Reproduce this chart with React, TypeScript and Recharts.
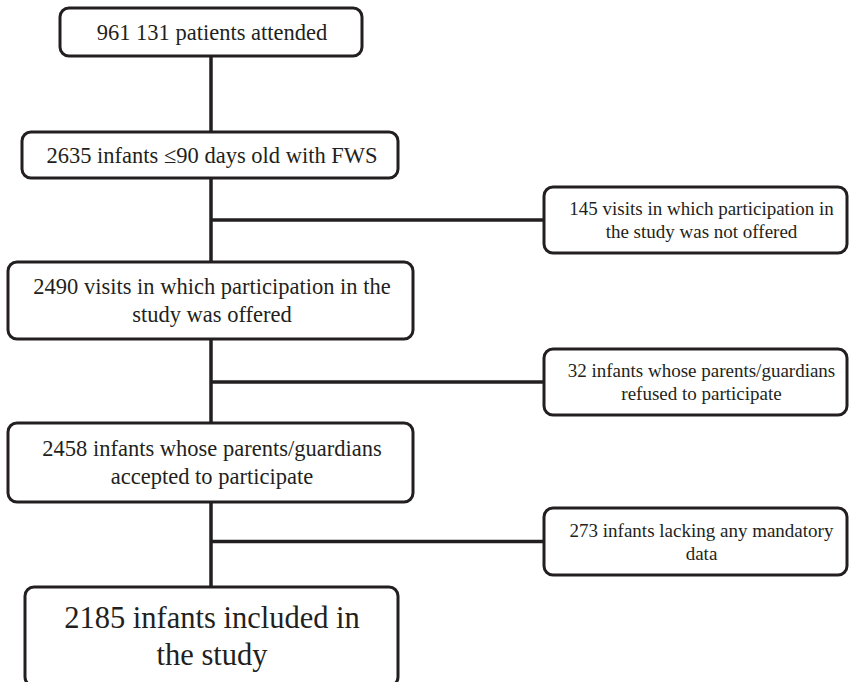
import { ScatterChart, XAxis, YAxis, ReferenceArea, ReferenceLine } from 'recharts'

// Flow steps down the left trunk
const stepLabels: string[][] = [
  ['961 131 patients attended'],
  ['2635 infants \u226490 days old with FWS'],
  ['2490 visits in which participation in the', 'study was offered'],
  ['2458 infants whose parents/guardians', 'accepted to participate'],
  ['2185 infants included in', 'the study'],
]
const stepLeft = [60, 22, 8, 8, 25]
const stepRight = [362, 398, 413, 413, 398]
const stepTop = [8, 132, 262, 423, 587]
const stepBottom = [56, 178, 339, 502, 686]

// Exclusions branching to the right
const exclusionLabels: string[][] = [
  ['145 visits in which participation in', 'the study was not offered'],
  ['32 infants whose parents/guardians', 'refused to participate'],
  ['273 infants lacking any mandatory', 'data'],
]
const exclusionTop = [187, 349, 508]
const exclusionBottom = [253, 415, 575]
const exclusionLeft = 544
const exclusionRight = 847

const trunkX = 211

const INK = '#231f20'
const FONT = 'Liberation Serif'

interface BoxShapeProps {
  x?: number
  y?: number
  width?: number
  height?: number
}

function makeBox(lines: string[], fontSize: number, lineGap: number, textDx = 0) {
  return (props: BoxShapeProps) => {
    const { x = 0, y = 0, width = 0, height = 0 } = props
    const cx = x + width / 2 + textDx
    const cy = y + height / 2
    const start = cy - ((lines.length - 1) * lineGap) / 2
    return (
      <g>
        <rect
          x={x}
          y={y}
          width={width}
          height={height}
          rx={9}
          ry={9}
          fill="#ffffff"
          stroke={INK}
          strokeWidth={3}
        />
        {lines.map((line, i) => (
          <text
            key={i}
            x={cx}
            y={start + i * lineGap}
            textAnchor="middle"
            dominantBaseline="central"
            style={{ fontFamily: FONT, fontSize }}
            fill={INK}
          >
            {line}
          </text>
        ))}
      </g>
    )
  }
}

export default function App() {
  const last = stepLabels.length - 1
  return (
    <div style={{ width: 849, height: 682, background: '#ffffff' }}>
      <style>{'body{margin:0;background:#fff}'}</style>
      <ScatterChart width={849} height={682} margin={{ top: 0, right: 0, bottom: 0, left: 0 }}>
        <XAxis type="number" dataKey="x" domain={[0, 849]} hide allowDataOverflow />
        <YAxis type="number" dataKey="y" domain={[0, 682]} reversed hide allowDataOverflow />

        {/* trunk segments between steps */}
        {stepLabels.slice(0, -1).map((_, i) => (
          <ReferenceLine
            key={`trunk-${i}`}
            segment={[
              { x: trunkX, y: stepBottom[i] },
              { x: trunkX, y: stepTop[i + 1] },
            ]}
            stroke={INK}
            strokeWidth={3.5}
            ifOverflow="visible"
          />
        ))}

        {/* branches to exclusion boxes */}
        {exclusionLabels.map((_, i) => (
          <ReferenceLine
            key={`branch-${i}`}
            segment={[
              { x: trunkX, y: (exclusionTop[i] + exclusionBottom[i]) / 2 },
              { x: exclusionLeft, y: (exclusionTop[i] + exclusionBottom[i]) / 2 },
            ]}
            stroke={INK}
            strokeWidth={3.5}
            ifOverflow="visible"
          />
        ))}

        {stepLabels.map((lines, i) => (
          <ReferenceArea
            key={`step-${i}`}
            x1={stepLeft[i]}
            x2={stepRight[i]}
            y1={stepTop[i]}
            y2={stepBottom[i]}
            ifOverflow="visible"
            shape={makeBox(lines, i === last ? 30.5 : 22.5, i === last ? 37 : 28, 212 - (stepLeft[i] + stepRight[i]) / 2)}
          />
        ))}

        {exclusionLabels.map((lines, i) => (
          <ReferenceArea
            key={`excl-${i}`}
            x1={exclusionLeft}
            x2={exclusionRight}
            y1={exclusionTop[i]}
            y2={exclusionBottom[i]}
            ifOverflow="visible"
            shape={makeBox(lines, 19, 23, 6)}
          />
        ))}
      </ScatterChart>
    </div>
  )
}
